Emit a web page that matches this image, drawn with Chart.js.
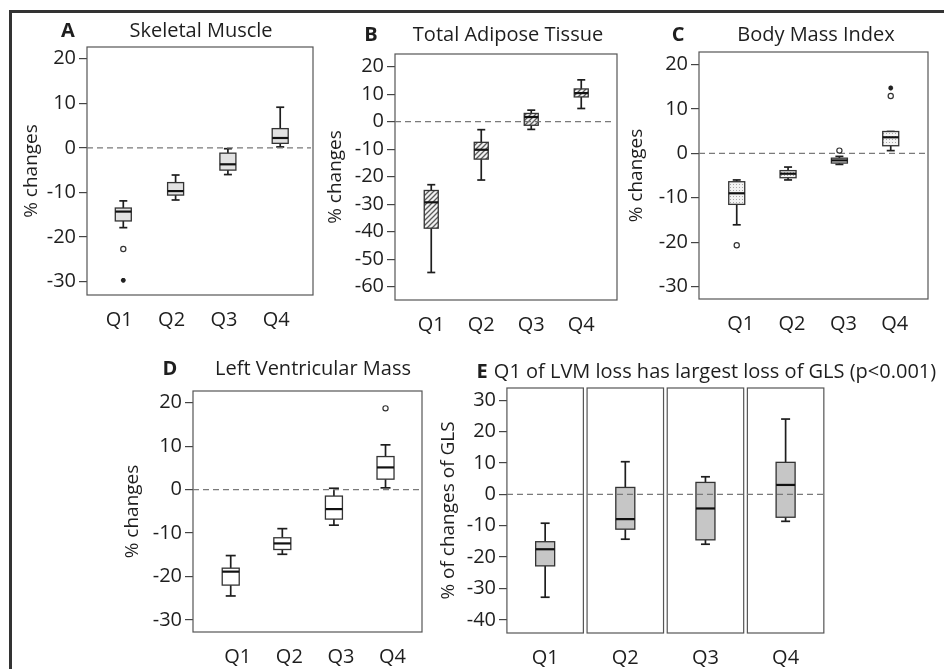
<!DOCTYPE html>
<html>
<head>
<meta charset="utf-8">
<script src="https://cdn.jsdelivr.net/npm/chart.js@4.4.1/dist/chart.umd.min.js"></script>
<style>
  body { margin: 0; background: #fff; }
  #wrap { position: relative; width: 944px; height: 669px; overflow: hidden; }
  #wrap canvas { position: absolute; left: 0; top: 0; }
  .frame { position: absolute; left: 9px; top: 10px; right: -10px; bottom: -10px;
           border-top: 3px solid #333; border-left: 3px solid #333; }
</style>
</head>
<body>
<div id="wrap"><div class="frame"></div></div>
<script>
// data: each box is [lower whisker, Q1, median, Q3, upper whisker], in % change
const quartiles = ['Q1', 'Q2', 'Q3', 'Q4'];

const muscleBoxes = [[-17.9, -16.4, -14.3, -13.5, -11.9], [-11.7, -10.6, -9.7, -7.8, -6.1],
                     [-6.0, -5.0, -3.7, -1.2, -0.2], [0.2, 1.0, 2.2, 4.3, 9.1]];
const muscleCircles = [{x: 1, y: -22.7}];
const muscleStars = [{x: 1, y: -29.7}];
const muscleTicks = [-30, -20, -10, 0, 10, 20];

const adiposeBoxes = [[-54.8, -38.7, -29.3, -25.0, -22.9], [-21.2, -13.6, -10.2, -7.5, -2.9],
                      [-2.8, -1.3, 1.7, 3.0, 4.2], [4.8, 9.0, 10.4, 11.9, 15.2]];
const adiposeTicks = [-60, -50, -40, -30, -20, -10, 0, 10, 20];

const bmiBoxes = [[-16.1, -11.5, -9.0, -6.4, -6.0], [-6.0, -5.5, -4.6, -3.9, -3.1],
                  [-2.5, -2.2, -1.6, -1.1, -0.7], [0.6, 1.7, 3.6, 4.9, 4.9]];
const bmiCircles = [{x: 1, y: -20.7}, {x: 3, y: 0.6}, {x: 4, y: 12.9}];
const bmiStars = [{x: 4, y: 14.7}];
const bmiTicks = [-30, -20, -10, 0, 10, 20];

const lvmBoxes = [[-24.5, -22.0, -18.9, -18.1, -15.2], [-14.9, -13.8, -12.4, -11.1, -9.0],
                  [-8.2, -6.8, -4.5, -1.5, 0.3], [0.4, 2.4, 5.1, 7.6, 10.3]];
const lvmCircles = [{x: 4, y: 18.7}];
const lvmTicks = [-30, -20, -10, 0, 10, 20];

const glsBoxes = [[-32.8, -22.8, -17.5, -15.1, -9.2], [-14.3, -11.1, -7.9, 2.2, 10.4],
                  [-15.9, -14.5, -4.5, 3.8, 5.6], [-8.6, -7.3, 3.0, 10.2, 24.0]];
const glsTicks = [-40, -30, -20, -10, 0, 10, 20, 30];

Chart.defaults.font.family = "'Open Sans', sans-serif";
Chart.defaults.font.size = 20;
Chart.defaults.color = '#1e1e1e';

function makePattern(kind) {
  const c = document.createElement('canvas');
  const g = c.getContext('2d');
  if (kind === 'hatch') {
    c.width = c.height = 5;
    g.fillStyle = '#f2f2f2'; g.fillRect(0, 0, 5, 5);
    g.strokeStyle = '#5a5a5a'; g.lineWidth = 1.3;
    g.beginPath();
    g.moveTo(-1, 6); g.lineTo(6, -1);
    g.moveTo(-1, 1); g.lineTo(1, -1);
    g.moveTo(4, 6); g.lineTo(6, 4);
    g.stroke();
  } else {
    c.width = c.height = 3;
    g.fillStyle = '#f3f3f3'; g.fillRect(0, 0, 3, 3);
    g.fillStyle = '#a8a8a8'; g.fillRect(1, 1, 1, 1);
  }
  return g.createPattern(c, 'repeat');
}

const wrap = document.getElementById('wrap');

function makePanel(cfg) {
  const canvas = document.createElement('canvas');
  canvas.width = 944; canvas.height = 669;
  wrap.appendChild(canvas);
  const p = cfg.plot;
  const padLeft = cfg.yTitleX - 15.4;

  const boxplot = {
    id: 'boxplot',
    beforeDatasetsDraw(chart) {
      const {ctx, chartArea: a, scales: {x, y}} = chart;
      const line = (x1, y1, x2, y2) => { ctx.beginPath(); ctx.moveTo(x1, y1); ctx.lineTo(x2, y2); ctx.stroke(); };
      ctx.save();
      ctx.strokeStyle = '#555'; ctx.lineWidth = 1.2;
      if (cfg.split) {
        quartiles.forEach((q, i) => {
          const l = x.getPixelForValue(i + 1 - cfg.split), r = x.getPixelForValue(i + 1 + cfg.split);
          ctx.strokeRect(l, a.top, r - l, a.bottom - a.top);
        });
      } else {
        ctx.strokeRect(a.left, a.top, a.width, a.height);
      }
      const w = cfg.boxWidth, cap = cfg.capWidth;
      cfg.boxes.forEach((b, i) => {
        const cx = x.getPixelForValue(i + 1);
        const [wl, bl, md, bh, wh] = b.map(v => y.getPixelForValue(v));
        ctx.strokeStyle = '#1e1e1e'; ctx.lineWidth = 1.7;
        line(cx, wl, cx, bl); line(cx, bh, cx, wh);
        line(cx - cap / 2, wl, cx + cap / 2, wl); line(cx - cap / 2, wh, cx + cap / 2, wh);
        ctx.fillStyle = cfg.fill;
        ctx.fillRect(cx - w / 2, bh, w, bl - bh);
        ctx.strokeStyle = '#333'; ctx.lineWidth = 1.3;
        ctx.strokeRect(cx - w / 2, bh, w, bl - bh);
        ctx.strokeStyle = '#111'; ctx.lineWidth = 2.2;
        line(cx - w / 2, md, cx + w / 2, md);
      });
      const y0 = y.getPixelForValue(0);
      ctx.setLineDash([6, 4]); ctx.strokeStyle = '#7a7a7a'; ctx.lineWidth = 1.2;
      line(a.left, y0, a.right + (cfg.split ? 2 : -2), y0);
      ctx.restore();
    },
    afterDraw(chart) {
      const ctx = chart.ctx;
      ctx.save();
      ctx.fillStyle = '#1e1e1e';
      ctx.textAlign = 'center'; ctx.textBaseline = 'middle';
      ctx.font = "bold 20px 'Open Sans', sans-serif";
      ctx.fillText(cfg.letter, cfg.letterX, cfg.headY);
      ctx.font = "20px 'Open Sans', sans-serif";
      ctx.fillText(cfg.title, cfg.titleX, cfg.headY);
      ctx.restore();
    }
  };

  new Chart(canvas, {
    type: 'scatter',
    data: {
      datasets: [
        { data: cfg.circles || [], pointStyle: 'circle', radius: 2.6, borderWidth: 1.2,
          borderColor: '#333', backgroundColor: '#fff' },
        { data: cfg.stars || [], pointStyle: 'star', radius: 2.4, borderWidth: 1.6,
          borderColor: '#222', backgroundColor: '#222' }
      ]
    },
    options: {
      responsive: false,
      animation: false,
      events: [],
      layout: { padding: { left: padLeft, top: p.t, right: 944 - p.r, bottom: 669 - p.b - 40 } },
      plugins: { legend: { display: false }, tooltip: { enabled: false } },
      scales: {
        x: {
          type: 'linear', min: cfg.xMin, max: cfg.xMax,
          afterBuildTicks: s => { s.ticks = quartiles.map((q, i) => ({ value: i + 1 })); },
          afterFit: s => { s.height = 40; },
          grid: { display: false },
          border: { display: false },
          ticks: { padding: 5, labelOffset: cfg.labelShift, autoSkip: false, maxRotation: 0,
                   callback: (v, i) => quartiles[i] }
        },
        y: {
          min: cfg.yMin, max: cfg.yMax,
          afterBuildTicks: s => { s.ticks = cfg.ticks.map(v => ({ value: v })); },
          afterFit: s => { s.width = p.l - padLeft; },
          grid: { drawOnChartArea: false, tickLength: 8, color: '#444', lineWidth: 1.2 },
          border: { display: false },
          ticks: { padding: 3 },
          title: { display: true, text: cfg.yTitle, font: { size: 19 }, padding: { top: 4, bottom: 4 } }
        }
      }
    },
    plugins: [boxplot]
  });
}

makePanel({
  letter: 'A', letterX: 68, title: 'Skeletal Muscle', titleX: 201, headY: 31,
  plot: { l: 87, t: 47, r: 313, b: 295 }, yTitleX: 32, yTitle: '% changes',
  xMin: 0.306, xMax: 4.627, yMin: -33, yMax: 22.6, ticks: muscleTicks, labelShift: -4,
  boxes: muscleBoxes, circles: muscleCircles, stars: muscleStars,
  fill: '#e2e2e2', boxWidth: 16, capWidth: 8
});

makePanel({
  letter: 'B', letterX: 371, title: 'Total Adipose Tissue', titleX: 508, headY: 35,
  plot: { l: 395, t: 54, r: 617, b: 300 }, yTitleX: 336, yTitle: '% changes',
  xMin: 0.275, xMax: 4.715, yMin: -64.8, yMax: 24.6, ticks: adiposeTicks, labelShift: 0,
  boxes: adiposeBoxes,
  fill: makePattern('hatch'), boxWidth: 14, capWidth: 8
});

makePanel({
  letter: 'C', letterX: 678, title: 'Body Mass Index', titleX: 816, headY: 35,
  plot: { l: 699, t: 52, r: 928, b: 299 }, yTitleX: 637, yTitle: '% changes',
  xMin: 0.265, xMax: 4.726, yMin: -32.8, yMax: 22.8, ticks: bmiTicks, labelShift: 4,
  boxes: bmiBoxes, circles: bmiCircles, stars: bmiStars,
  fill: makePattern('dots'), boxWidth: 16, capWidth: 8
});

makePanel({
  letter: 'D', letterX: 170, title: 'Left Ventricular Mass', titleX: 313, headY: 369,
  plot: { l: 193, t: 391, r: 422, b: 632 }, yTitleX: 133, yTitle: '% changes',
  xMin: 0.269, xMax: 4.707, yMin: -32.8, yMax: 22.7, ticks: lvmTicks, labelShift: 7,
  boxes: lvmBoxes, circles: lvmCircles,
  fill: '#ffffff', boxWidth: 17, capWidth: 10
});

makePanel({
  letter: 'E', letterX: 482, title: 'Q1 of LVM loss has largest loss of GLS (p<0.001)', titleX: 715, headY: 372,
  plot: { l: 507, t: 388, r: 824, b: 633 }, yTitleX: 449, yTitle: '% of changes of GLS',
  xMin: 0.524, xMax: 4.479, yMin: -44.2, yMax: 33.9, ticks: glsTicks, labelShift: 0,
  boxes: glsBoxes, split: 0.477,
  fill: '#c6c6c6', boxWidth: 19, capWidth: 9
});
</script>
</body>
</html>
